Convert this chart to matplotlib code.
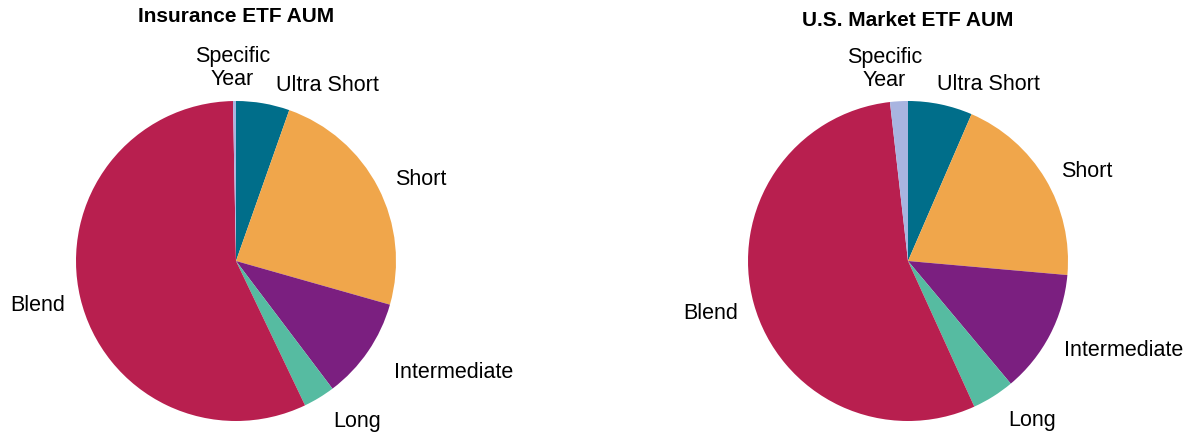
import numpy as np
import matplotlib; matplotlib.use("Agg")
import matplotlib.pyplot as plt

plt.rcParams["font.family"] = ["Liberation Sans", "DejaVu Sans"]

CATEGORIAS = ["Ultra Short", "Short", "Intermediate", "Long", "Blend", "Specific\nYear"]
INSURANCE  = [5.4, 24.0, 10.3, 3.2, 56.8, 0.3]
US_MARKET  = [6.5, 19.9, 12.5, 4.3, 55.0, 1.8]
TITULOS    = ["Insurance ETF AUM", "U.S. Market ETF AUM"]

CORES = ["#006E8A", "#F0A64B", "#7B1F80", "#56BBA1", "#B81F4F", "#A8B4E0"]

# distancia do rotulo (em raios) por fatia + pequeno ajuste x/y, a olho
DIST_ESQ = [1.12, 1.12, 1.20, 1.17, 1.10, 1.21]
DIST_DIR = [1.13, 1.11, 1.10, 1.17, 1.10, 1.21]
AJUSTE_ESQ = [(0.06, 0), (0, 0), (0, -0.01), (0, 0), (0, -0.02), (-0.01, 0)]
AJUSTE_DIR = [(-0.05, 0), (0, 0), (0, -0.045), (0, 0), (0, -0.03), (-0.08, 0)]

W, H = 1191, 435
fig = plt.figure(figsize=(W/100, H/100), dpi=100)

def pizza(cx, cy, valores, titulo, dists, ajustes, ty):
    r = 160
    ax = fig.add_axes([(cx-r)/W, (H-cy-r)/H, 2*r/W, 2*r/H])
    wedges, _ = ax.pie(valores, colors=CORES, startangle=90, counterclock=False,
                       radius=1, wedgeprops=dict(linewidth=0))
    ax.set_xlim(-1, 1); ax.set_ylim(-1, 1); ax.set_aspect("equal")
    ax.axis("off")
    for w, lab, d, (dx, dy) in zip(wedges, CATEGORIAS, dists, ajustes):
        ang = np.deg2rad((w.theta1 + w.theta2) / 2)
        x, y = np.cos(ang), np.sin(ang)
        if "Specific" in lab: ha = "center"
        else: ha = "left" if x > 0 else "right"
        ax.text(d*x + dx, d*y + dy, lab, ha=ha, va="center", fontsize=15.5,
                linespacing=1.12, multialignment="center")
    fig.text(cx/W, 1-ty/H, titulo, ha="center", va="center",
             fontsize=15, fontweight="bold")

pizza(236, 262, INSURANCE, TITULOS[0], DIST_ESQ, AJUSTE_ESQ, 16)
pizza(908, 262, US_MARKET, TITULOS[1], DIST_DIR, AJUSTE_DIR, 20)

plt.savefig("out.png", dpi=100)
plt.close()
